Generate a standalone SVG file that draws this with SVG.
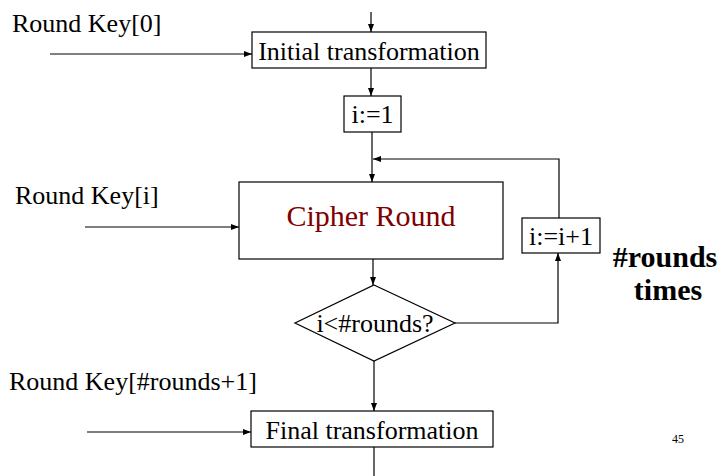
<svg xmlns="http://www.w3.org/2000/svg" width="719" height="476" viewBox="0 0 719 476">
  <defs>
    <marker id="arrow" viewBox="0 0 8 6" refX="8" refY="3" markerWidth="8" markerHeight="6" markerUnits="userSpaceOnUse" orient="auto">
      <path d="M0,0 L8,3 L0,6 Z" fill="#000"/>
    </marker>
    <style>
      text { font-family: "Liberation Serif", "Times New Roman", serif; fill: #000; }
      .box { fill: #fff; stroke: #000; stroke-width: 1.2; }
      .lbl { font-size: 26px; text-anchor: middle; }
      .key { font-size: 26px; }
      .edge { fill: none; stroke: #000; stroke-width: 1.2; }
      .arr { marker-end: url(#arrow); }
      .note { font-size: 30px; font-weight: bold; text-anchor: middle; }
    </style>
  </defs>
  <rect width="719" height="476" fill="#fff"/>

  <!-- connectors -->
  <g id="connectors">
    <path class="edge arr" d="M371,12 V32"/>
    <path class="edge arr" d="M50,54 H252"/>
    <path class="edge arr" d="M371,68 V96"/>
    <path class="edge arr" d="M372,132 V182"/>
    <path class="edge arr" d="M559,218 V159 H373"/>
    <path class="edge arr" d="M85,227 H239"/>
    <path class="edge arr" d="M373,259 V285"/>
    <path class="edge arr" d="M455,323 H558 V253"/>
    <path class="edge arr" d="M374,361 V411"/>
    <path class="edge arr" d="M87,432 H251"/>
    <path class="edge" d="M374,447 V476"/>
  </g>

  <!-- key labels -->
  <text class="key" x="12" y="32">Round Key[0]</text>
  <text class="key" x="15" y="204">Round Key[i]</text>
  <text class="key" x="9" y="390">Round Key[#rounds+1]</text>

  <g id="initial">
    <rect class="box" x="252" y="32" width="234" height="36"/>
    <text class="lbl" x="369" y="60">Initial transformation</text>
  </g>

  <g id="init-i">
    <rect class="box" x="344" y="96" width="57" height="36"/>
    <text class="lbl" x="372.5" y="123">i:=1</text>
  </g>

  <g id="cipher-round">
    <rect class="box" x="239" y="182" width="264" height="77"/>
    <text x="371" y="226" font-size="30" text-anchor="middle" style="fill:#800000">Cipher Round</text>
  </g>

  <g id="test">
    <path class="box" d="M374,285 L455,323 L374,361 L295,323 Z"/>
    <text class="lbl" x="375" y="332">i&lt;#rounds?</text>
  </g>

  <g id="increment">
    <rect class="box" x="522" y="218" width="78" height="35"/>
    <text class="lbl" x="561" y="245">i:=i+1</text>
  </g>

  <g id="repeat-note">
    <text class="note" x="665" y="267">#rounds</text>
    <text class="note" x="668" y="300">times</text>
  </g>

  <g id="final">
    <rect class="box" x="251" y="411" width="242" height="36"/>
    <text class="lbl" x="372" y="439">Final transformation</text>
  </g>

  <text x="678" y="443" font-size="12" text-anchor="middle">45</text>
</svg>
